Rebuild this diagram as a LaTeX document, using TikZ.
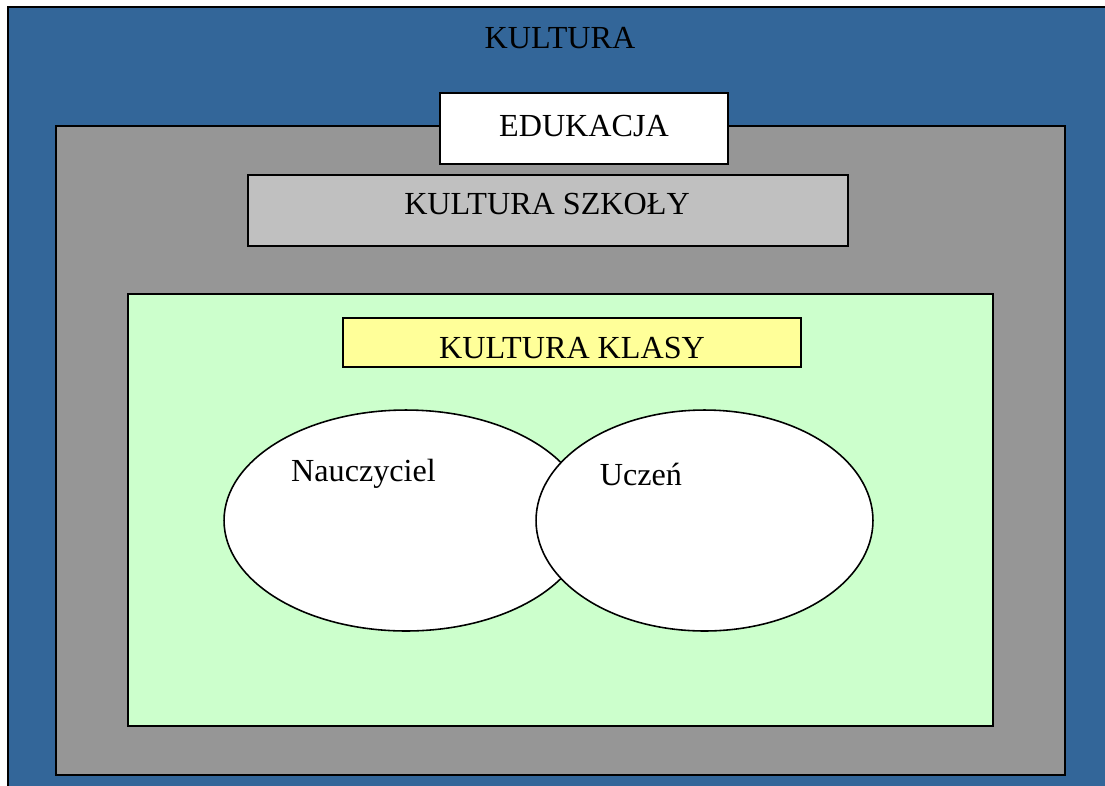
\documentclass[tikz,border=0pt]{standalone}
\usepackage{fontspec}
\setmainfont{Liberation Serif}
\usetikzlibrary{positioning}
\usetikzlibrary{shapes.geometric}
\definecolor{kblue}{RGB}{51,102,153}
\definecolor{kgray}{RGB}{150,150,150}
\definecolor{klight}{RGB}{192,192,192}
\definecolor{kgreen}{RGB}{204,255,204}
\definecolor{kyellow}{RGB}{255,255,153}
\tikzset{layer/.style = {draw=black,line width=1.3pt}}
\tikzset{box/.style = {shape=rectangle,draw=black,line width=1.1pt,inner sep=0pt}}
\tikzset{oval/.style = {shape=ellipse,draw=black,fill=white,line width=0.9pt,inner sep=0pt}}
\tikzset{label/.style = {font=\fontsize{18.3}{20}\selectfont,inner sep=0pt}}

\begin{document}
\begin{tikzpicture}[x=0.02cm,y=-0.02cm]
            \fill[white] (0,0) rectangle (1105,785);
            \clip (0,0) rectangle (1105,785);

            % Layers
            \path[layer,fill=kblue] (8,7) rectangle (1120,800);
            \path[layer,fill=kgray] (56,126) rectangle (1065,775);
            \path[layer,fill=kgreen] (128,294) rectangle (993,726);

            % Boxes
            \node[box,fill=white,minimum width=5.76cm,minimum height=1.42cm] (edukacja) at (584,128.5) {};
            \node[box,fill=klight,minimum width=12cm,minimum height=1.42cm] (szkola) at (548,210.5) {};
            \node[box,fill=kyellow,minimum width=9.16cm,minimum height=0.98cm] (klasa) at (572,342.5) {};

            % Ellipses
            \node[oval,minimum width=7.28cm,minimum height=4.42cm] (nauczyciel) at (406,520.5) {};
            \node[oval,minimum width=6.74cm,minimum height=4.42cm] (uczen) at (704.5,520.5) {};

            % Labels
            \node[label] (kultura) at (560,38) {KULTURA};
            \node[label] (tedukacja) at (584,126) {EDUKACJA};
            \node[label] (tszkola) at (547,204) {KULTURA SZKOŁY};
            \node[label] (tklasa) at (572,348) {KULTURA KLASY};
            \node[label] (tnauczyciel) at (363.5,474) {Nauczyciel};
            \node[label] (tuczen) at (641,474) {Uczeń};
        \end{tikzpicture}
\end{document}
